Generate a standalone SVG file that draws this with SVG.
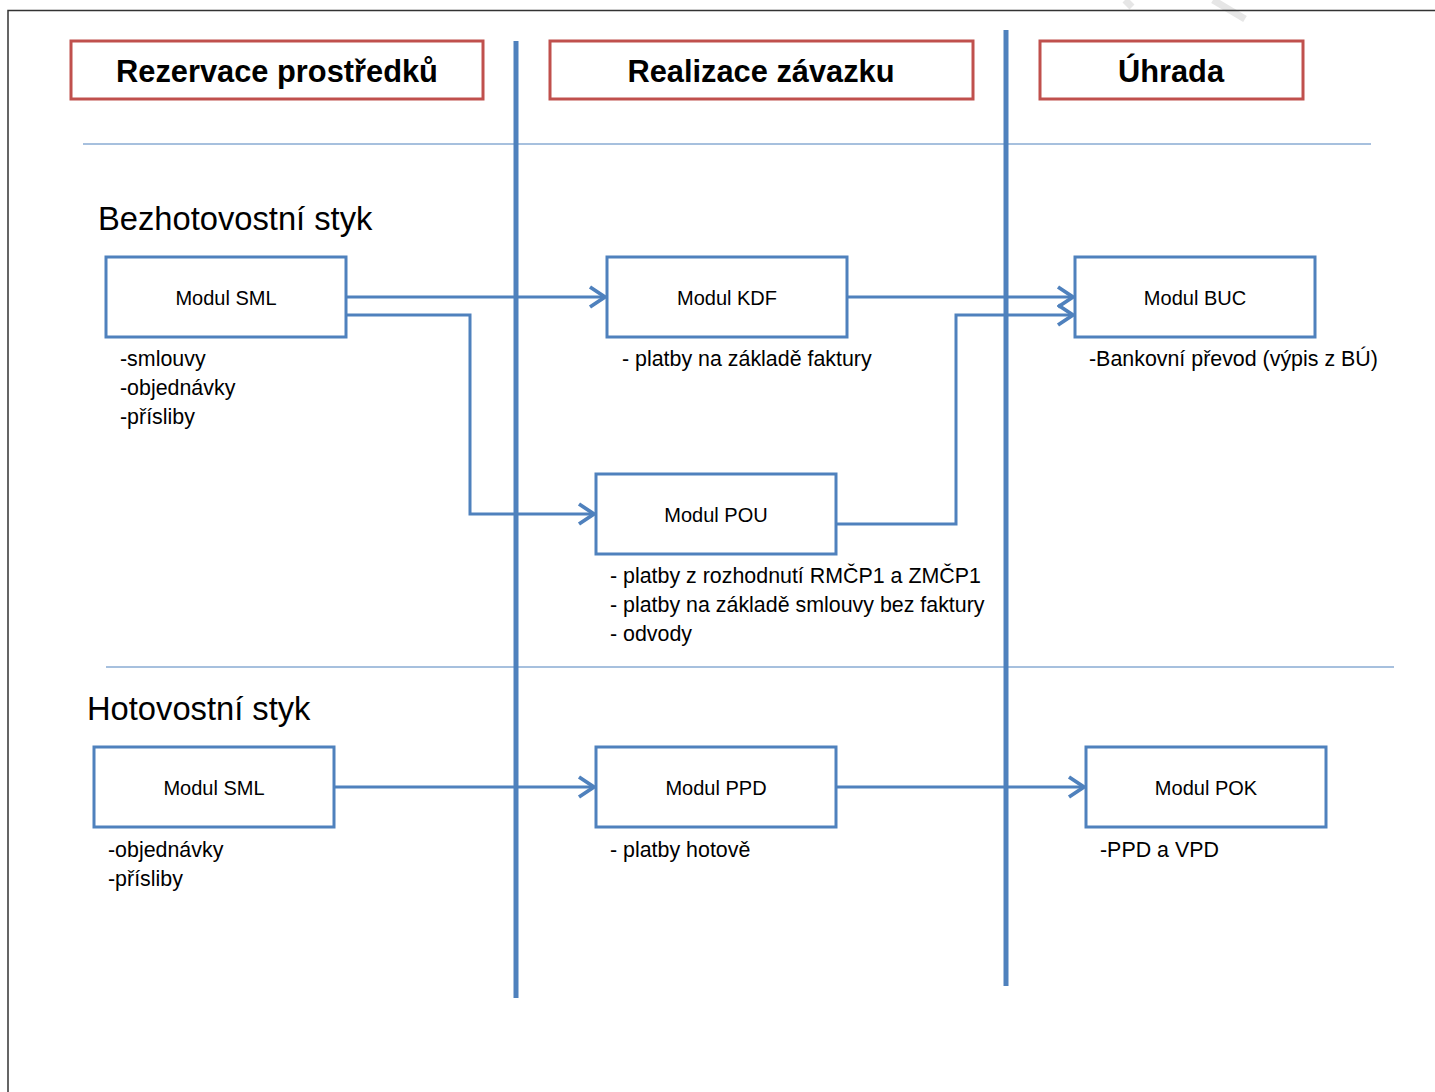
<svg xmlns="http://www.w3.org/2000/svg" width="1435" height="1092" viewBox="0 0 1435 1092">
<style>
.hdr{fill:#fff;stroke:#C0504D;stroke-width:3}
.ht{font-family:"Liberation Sans",Arial,sans-serif;font-weight:bold;font-size:30.8px;fill:#000;text-anchor:middle}
.box{fill:#fff;stroke:#4F81BD;stroke-width:3}
.bt{font-family:"Liberation Sans",Arial,sans-serif;font-size:20px;fill:#000;text-anchor:middle}
.lb{font-family:"Liberation Sans",Arial,sans-serif;font-size:21.4px;fill:#000}
.sec{font-family:"Liberation Sans",Arial,sans-serif;font-size:32.7px;fill:#000}
.con{fill:none;stroke:#4F81BD;stroke-width:3}
.sep{stroke:#4F81BD;stroke-width:1}
.lane{stroke:#4F81BD;stroke-width:5}
</style>
<defs>
<marker id="arr" markerUnits="userSpaceOnUse" markerWidth="30" markerHeight="30" viewBox="-16 -12 20 24" refX="0" refY="0" orient="auto">
<path d="M-12,-8 L0,0 L-12,8" fill="none" stroke="#4F81BD" stroke-width="3"/>
</marker>
</defs>
<rect width="1435" height="1092" fill="#fff"/>
<g id="watermark" stroke="#e6e6e6" stroke-width="7" fill="none">
<path d="M1125,0 L1132,7"/>
<path d="M1213,0 L1245,19"/>
</g>
<g id="frame" stroke="#333" stroke-width="1.5" fill="none">
<path d="M8,1092 L8,10.5 L1435,10.5"/>
</g>
<g id="lanes">
<line class="lane" x1="516" y1="41" x2="516" y2="998"/>
<line class="lane" x1="1006" y1="30" x2="1006" y2="986"/>
<line class="sep" x1="83" y1="144" x2="1371" y2="144"/>
<line class="sep" x1="106" y1="667" x2="1394" y2="667"/>
</g>
<g id="header-rezervace"><rect class="hdr" x="71" y="41" width="412" height="58"/><text class="ht" x="277" y="82">Rezervace prostředků</text></g>
<g id="header-realizace"><rect class="hdr" x="550" y="41" width="423" height="58"/><text class="ht" x="761" y="82">Realizace závazku</text></g>
<g id="header-uhrada"><rect class="hdr" x="1040" y="41" width="263" height="58"/><text class="ht" x="1171" y="82">Úhrada</text></g>
<text class="sec" x="98" y="230">Bezhotovostní styk</text>
<text class="sec" x="87" y="720">Hotovostní styk</text>
<g id="connectors">
<path class="con" d="M346,297 L605,297" marker-end="url(#arr)"/>
<path class="con" d="M346,315 L470,315 L470,514 L594,514" marker-end="url(#arr)"/>
<path class="con" d="M847,297 L1073,297" marker-end="url(#arr)"/>
<path class="con" d="M836,524 L956,524 L956,315 L1073,315" marker-end="url(#arr)"/>
<path class="con" d="M334,787 L594,787" marker-end="url(#arr)"/>
<path class="con" d="M836,787 L1084,787" marker-end="url(#arr)"/>
</g>
<g id="sml1"><rect class="box" x="106" y="257" width="240" height="80"/><text class="bt" x="226" y="305">Modul SML</text>
<text class="lb" x="120" y="366">-smlouvy</text><text class="lb" x="120" y="395">-objednávky</text><text class="lb" x="120" y="424">-přísliby</text></g>
<g id="kdf"><rect class="box" x="607" y="257" width="240" height="80"/><text class="bt" x="727" y="305">Modul KDF</text>
<text class="lb" x="622" y="366">- platby na základě faktury</text></g>
<g id="buc"><rect class="box" x="1075" y="257" width="240" height="80"/><text class="bt" x="1195" y="305">Modul BUC</text>
<text class="lb" x="1089" y="366">-Bankovní převod (výpis z BÚ)</text></g>
<g id="pou"><rect class="box" x="596" y="474" width="240" height="80"/><text class="bt" x="716" y="522">Modul POU</text>
<text class="lb" x="610" y="583">- platby z rozhodnutí RMČP1 a ZMČP1</text><text class="lb" x="610" y="612">- platby na základě smlouvy bez faktury</text><text class="lb" x="610" y="641">- odvody</text></g>
<g id="sml2"><rect class="box" x="94" y="747" width="240" height="80"/><text class="bt" x="214" y="795">Modul SML</text>
<text class="lb" x="108" y="857">-objednávky</text><text class="lb" x="108" y="886">-přísliby</text></g>
<g id="ppd"><rect class="box" x="596" y="747" width="240" height="80"/><text class="bt" x="716" y="795">Modul PPD</text>
<text class="lb" x="610" y="857">- platby hotově</text></g>
<g id="pok"><rect class="box" x="1086" y="747" width="240" height="80"/><text class="bt" x="1206" y="795">Modul POK</text>
<text class="lb" x="1100" y="857">-PPD a VPD</text></g>
</svg>
